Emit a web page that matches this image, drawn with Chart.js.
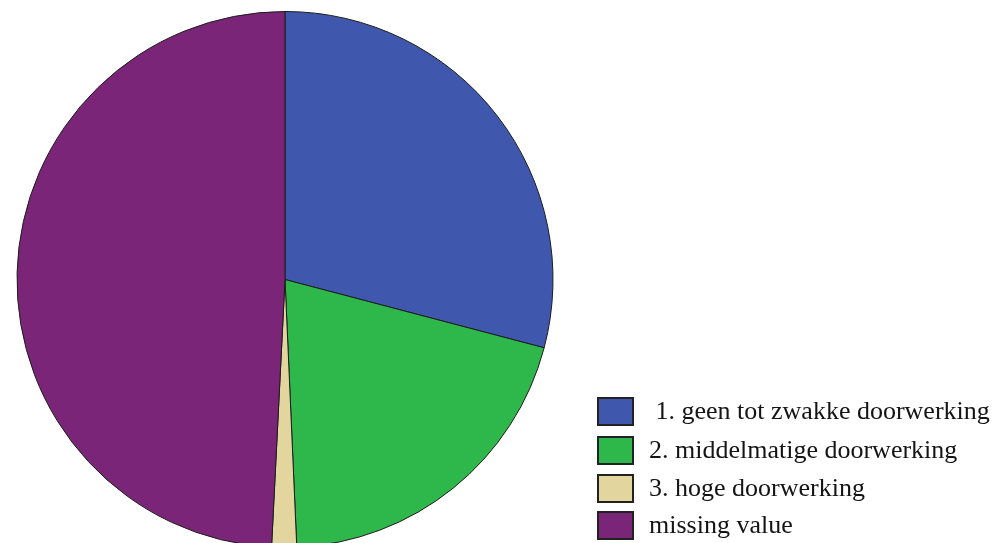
<!DOCTYPE html>
<html>
<head>
<meta charset="utf-8">
<script src="https://cdn.jsdelivr.net/npm/chart.js@4/dist/chart.umd.min.js"></script>
<style>
  html, body { margin: 0; padding: 0; background: #fff; overflow: hidden; }
  #wrap { position: relative; width: 998px; height: 560px; }
</style>
</head>
<body>
<div id="wrap"><canvas id="pie"></canvas></div>
<script>
// categories and their share (percent of respondents)
var categories = [
    ' 1. geen tot zwakke doorwerking',
    '2. middelmatige doorwerking',
    '3. hoge doorwerking',
    'missing value'
];
var shares = [29.1, 20.2, 1.5, 49.2];
var sliceColors = ['#3F58AE', '#2EB84C', '#E2D69E', '#7A2577'];

// simple legend drawn in the lower right corner
var boxLegend = {
    id: 'boxLegend',
    afterDraw: function (chart) {
        var ctx = chart.ctx;
        var labels = chart.data.labels;
        var colors = chart.data.datasets[0].backgroundColor;
        var rows = [398, 437, 475, 512];
        ctx.save();
        ctx.font = '26px "Liberation Serif", "Times New Roman", serif';
        ctx.textBaseline = 'middle';
        for (var i = 0; i < labels.length; i++) {
            var y = rows[i];
            ctx.fillStyle = colors[i];
            ctx.fillRect(598, y, 35, 27);
            ctx.lineWidth = 2;
            ctx.strokeStyle = '#222';
            ctx.strokeRect(598, y, 35, 27);
            ctx.fillStyle = '#141414';
            ctx.fillText(labels[i], 649, y + 14);
        }
        ctx.restore();
    }
};

var ctx = document.getElementById('pie').getContext('2d');
var chart = new Chart(ctx, {
    type: 'pie',
    data: {
        labels: categories,
        datasets: [{
            data: shares,
            backgroundColor: sliceColors,
            borderColor: '#1c1c1c',
            borderWidth: 1
        }]
    },
    options: {
        responsive: true,
        maintainAspectRatio: false,
        animation: false,
        layout: {
            padding: { top: 11, left: 16, right: 444, bottom: 12 }
        },
        plugins: {
            legend: { display: false },
            tooltip: { enabled: false }
        }
    },
    plugins: [boxLegend]
});
</script>
</body>
</html>
